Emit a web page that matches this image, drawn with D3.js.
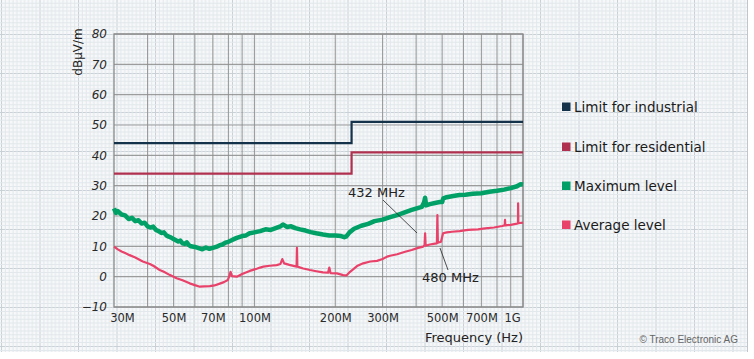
<!DOCTYPE html>
<html><head><meta charset="utf-8">
<script src="https://cdn.jsdelivr.net/npm/d3@7"></script>
<style>body{margin:0;background:#fff}svg{display:block}</style>
</head><body><svg id="c" width="754" height="359"></svg>
<script>
// ---------- data ----------
const yTicks = [-10,0,10,20,30,40,50,60,70,80];
const xTickVals = [30,50,70,100,200,300,500,700,1000];
const xTickLabels = ["30M","50M","70M","100M","200M","300M","500M","700M","1G"];
const gridFreqs = [40,50,60,70,80,90,100,200,300,400,500,600,700,800,900,1000];

const industrialF = [30,230,230,1000];
const industrialV = [44,44,51,51];
const residentialF = [30,230,230,1000];
const residentialV = [34,34,41,41];

const maxF = [30,30.5,31,32,33,34,35,36,37,38,39,40,41,42,43,44,45,46,47,48,49,50,51,52,53,54,55,56,57,58,60,62,64,66,68,70,72,74,76,78,80,83,86,90,93,96,100,105,110,115,120,125,128,132,137,142,148,155,162,170,180,190,200,210,216,220,226,235,250,265,280,300,320,340,365,385,405,420,428,432,436,450,470,490,500,505,520,550,580,610,650,700,750,800,850,900,950,980,1000];
const maxV = [22.5,21.0,21.6,20.5,20.2,19.0,19.4,18.3,18.6,17.5,17.8,16.6,16.2,16.5,15.4,15.0,14.4,14.6,13.6,13.2,12.9,12.4,12.0,11.6,11.9,11.0,10.8,11.3,10.4,10.0,9.8,9.4,9.0,9.6,9.2,9.5,9.8,10.3,10.6,11.2,11.5,12.2,12.8,13.4,13.6,14.3,14.6,15.0,15.6,15.4,16.0,16.6,17.2,16.4,16.6,16.0,15.6,15.2,14.7,14.3,13.9,13.6,13.6,13.4,13.0,13.3,14.6,15.8,16.8,17.4,18.3,18.8,19.6,20.3,21.3,22.0,22.6,23.0,24.4,26.0,23.5,23.9,24.3,24.6,24.6,25.8,26.2,26.6,26.9,27.0,27.3,27.5,28.0,28.3,28.7,29.2,29.8,30.5,30.4];

const avgF = [30,31,32,33,34.3,36,38.4,40.8,42,44.4,46,48.3,51.3,54,57.4,60,62.6,65,68.2,71,74.3,77,79.6,80.5,81.5,82.5,86,90,96,102,105,108,114,121,125,127,129,135,143.5,144,144.5,152,161,170,180,188,190,192,203,214,220,227,241,254,270,286,300,312,320,340,364,385,407,425,430,432,434,450,470,478,480,482,495,504,520,544,580,624,680,722,780,836,855,857,859,900,950,958,959,961,1000];
const avgV = [9.9,9.0,8.3,7.8,7.1,6.3,5.0,4.2,3.6,2.2,1.6,0.6,-0.5,-1.2,-2.2,-2.8,-3.3,-3.2,-3.1,-2.9,-2.3,-1.8,-1.1,0.0,1.6,0.2,0.0,0.9,1.9,2.6,3.0,3.3,3.6,3.8,4.2,5.8,4.4,3.9,3.3,9.5,3.3,2.7,2.2,1.8,1.4,1.3,3.0,1.2,1.1,0.5,0.4,1.6,3.5,4.4,5.0,5.2,5.8,6.6,6.9,7.4,8.2,8.8,9.5,9.9,10.4,14.3,10.2,10.6,10.9,11.0,20.3,11.2,11.5,14.3,14.6,14.8,15.0,15.4,15.6,15.9,16.2,16.7,16.9,18.7,16.9,17.1,17.5,17.6,24.2,17.6,17.8];

const legendLabels = ["Limit for industrial","Limit for residential","Maximum level","Average level"];
const colors = ["#14334a","#b0304f","#00a066","#e8416a"];

// ---------- drawing ----------
const svg = d3.select("#c");
const W = 748, H = 352;
const font = "DejaVu Sans, sans-serif";

// graph paper background
const defs = svg.append("defs");
const pat = defs.append("pattern").attr("id","paper").attr("patternUnits","userSpaceOnUse")
  .attr("x",1).attr("y",-5).attr("width",38.5).attr("height",39);
pat.append("rect").attr("width",38.5).attr("height",39).attr("fill","#f6f8f9");
for (let i=0;i<10;i++){
  pat.append("line").attr("x1",i*3.85+0.5).attr("x2",i*3.85+0.5).attr("y1",0).attr("y2",39)
    .attr("stroke", i===0?"#c9d1d7":"#e3e8ec").attr("stroke-width",1);
  pat.append("line").attr("y1",i*3.9+0.5).attr("y2",i*3.9+0.5).attr("x1",0).attr("x2",38.5)
    .attr("stroke", i===0?"#c9d1d7":"#e3e8ec").attr("stroke-width",1);
}
svg.append("rect").attr("width",W).attr("height",H).attr("fill","url(#paper)");
svg.append("line").attr("x1",W-0.5).attr("x2",W-0.5).attr("y1",0).attr("y2",H).attr("stroke","#c0c6cb");

const x = d3.scaleLog().domain([30,1000]).range([114,523]);
const y = d3.scaleLinear().domain([-10,80]).range([307,34]);

// grid
const g = svg.append("g");
g.selectAll(".vg").data(gridFreqs).enter().append("line")
  .attr("x1",d=>x(d)).attr("x2",d=>x(d)).attr("y1",y(80)).attr("y2",y(-10))
  .attr("stroke","#8e8e8e").attr("stroke-width",1.1).attr("opacity",0.85);
g.selectAll(".hg").data(yTicks).enter().append("line")
  .attr("x1",x(30)).attr("x2",x(1000)).attr("y1",d=>y(d)).attr("y2",d=>y(d))
  .attr("stroke","#8e8e8e").attr("stroke-width",1.1).attr("opacity",0.85);
g.append("rect").attr("x",x(30)).attr("y",y(80)).attr("width",x(1000)-x(30)).attr("height",y(-10)-y(80))
  .attr("fill","none").attr("stroke","#8a8a8a").attr("stroke-width",1.3);

// axes labels via d3 axes
const yAxis = d3.axisLeft(y).tickValues(yTicks).tickSize(0).tickPadding(7);
const ya = svg.append("g").attr("transform",`translate(${x(30)},0)`).call(yAxis);
ya.select(".domain").remove();
ya.selectAll("text").attr("font-family",font).attr("font-size",12).attr("font-style","italic").attr("fill","#2a2a2a");

const xAxis = d3.axisBottom(x).tickValues(xTickVals).tickFormat((d,i)=>xTickLabels[i]).tickSize(0).tickPadding(7);
const xa = svg.append("g").attr("transform",`translate(0,${y(-10)})`).call(xAxis);
xa.select(".domain").remove();
xa.selectAll("text").attr("font-family",font).attr("font-size",11.5).attr("fill","#2a2a2a")
  .attr("dx",(d)=> d===30?8:(d===1000?-11:0));

svg.append("text").attr("x",523).attr("y",342).attr("text-anchor","end")
  .attr("font-family",font).attr("font-size",13).attr("fill","#222").text("Frequency (Hz)");
svg.append("text").attr("transform","translate(82,52) rotate(-90)").attr("text-anchor","middle")
  .attr("font-family",font).attr("font-size",12).attr("fill","#222").text("dBµV/m");

// series
const line = d3.line().x(d=>x(d[0])).y(d=>y(d[1]));
const zip = (a,b)=>a.map((v,i)=>[v,b[i]]);
svg.append("path").datum(zip(maxF,maxV)).attr("d",line).attr("fill","none")
  .attr("stroke",colors[2]).attr("stroke-width",4.5).attr("stroke-linejoin","round");
svg.append("path").datum(zip(avgF,avgV)).attr("d",line).attr("fill","none")
  .attr("stroke",colors[3]).attr("stroke-width",2.2).attr("stroke-linejoin","round");
svg.append("path").datum(zip(residentialF,residentialV)).attr("d",line).attr("fill","none")
  .attr("stroke",colors[1]).attr("stroke-width",2.2);
svg.append("path").datum(zip(industrialF,industrialV)).attr("d",line).attr("fill","none")
  .attr("stroke",colors[0]).attr("stroke-width",2.2);

// annotations
svg.append("line").attr("x1",383).attr("y1",200).attr("x2",417).attr("y2",233).attr("stroke","#222").attr("stroke-width",0.8);
svg.append("text").attr("x",348).attr("y",197).attr("font-family",font).attr("font-size",13).attr("fill","#222").text("432 MHz");
svg.append("line").attr("x1",440).attr("y1",248).attr("x2",448).attr("y2",270).attr("stroke","#222").attr("stroke-width",0.8);
svg.append("text").attr("x",422).attr("y",282).attr("font-family",font).attr("font-size",13).attr("fill","#222").text("480 MHz");

// legend
const lg = svg.append("g");
const ly = [107,147,186,225];
legendLabels.forEach((t,i)=>{
  lg.append("rect").attr("x",562).attr("y",ly[i]-4.5).attr("width",8.5).attr("height",8.5).attr("fill",colors[i]);
  lg.append("text").attr("x",574).attr("y",ly[i]+5).attr("font-family",font).attr("font-size",13.5)
    .attr("fill","#1a1a1a").text(t);
});

svg.append("text").attr("x",738).attr("y",343).attr("text-anchor","end")
  .attr("font-family","Liberation Sans, Arial, sans-serif").attr("font-size",10).attr("fill","#666").text("© Traco Electronic AG");
</script></body></html>
